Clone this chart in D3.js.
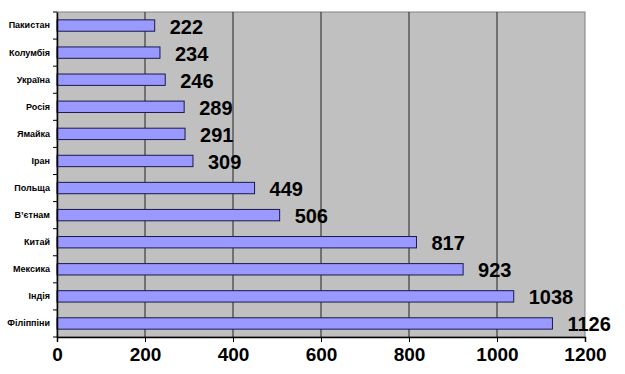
<!DOCTYPE html>
<html>
<head>
<meta charset="utf-8">
<script src="https://cdn.jsdelivr.net/npm/d3@7"></script>
<style>
  body { margin: 0; background: #fff; }
  text { font-family: "Liberation Sans", Arial, sans-serif; font-weight: bold; }
</style>
</head>
<body>
<div id="chart"></div>
<script>
// countries, top to bottom
const countries = ['Пакистан', 'Колумбія', 'Україна', 'Росія', 'Ямайка', 'Іран',
  'Польща', 'В\u2019єтнам', 'Китай', 'Мексика', 'Індія', 'Філіппіни'];
const values = [222, 234, 246, 289, 291, 309, 449, 506, 817, 923, 1038, 1126];
const xTicks = [0, 200, 400, 600, 800, 1000, 1200];

const width = 625, height = 374;
const margin = {top: 12, right: 40, bottom: 37, left: 57};

const svg = d3.select('#chart').append('svg')
  .attr('width', width)
  .attr('height', height);

const x = d3.scaleLinear()
  .domain([0, 1200])
  .range([margin.left, width - margin.right]);

const y = d3.scaleBand()
  .domain(countries)
  .range([margin.top, height - margin.bottom])
  .paddingInner(0.58)
  .paddingOuter(0.29);

// plot area background
svg.append('rect')
  .attr('x', x(0)).attr('y', margin.top)
  .attr('width', x(1200) - x(0))
  .attr('height', height - margin.bottom - margin.top)
  .attr('fill', '#c0c0c0')
  .attr('stroke', '#808080')
  .attr('stroke-width', 1);

// gridlines
svg.append('g').selectAll('line')
  .data(xTicks.filter(d => d > 0 && d < 1200))
  .enter().append('line')
  .attr('x1', d => x(d)).attr('x2', d => x(d))
  .attr('y1', margin.top).attr('y2', height - margin.bottom)
  .attr('stroke', '#222').attr('stroke-width', 1);

// bars
svg.append('g').selectAll('rect')
  .data(values)
  .enter().append('rect')
  .attr('x', x(0))
  .attr('y', (d, i) => y(countries[i]))
  .attr('width', d => x(d) - x(0))
  .attr('height', y.bandwidth())
  .attr('fill', '#9999ff')
  .attr('stroke', '#1a1a4d')
  .attr('stroke-width', 1);

// value labels
svg.append('g').selectAll('text')
  .data(values)
  .enter().append('text')
  .attr('x', d => x(d) + 15)
  .attr('y', (d, i) => y(countries[i]) + y.bandwidth() / 2 + 1)
  .attr('dy', '0.35em')
  .attr('font-size', 20)
  .attr('fill', '#000')
  .text(d => d);

// x axis
const xAxis = svg.append('g')
  .attr('transform', `translate(0,${height - margin.bottom})`)
  .call(d3.axisBottom(x).tickValues(xTicks).tickFormat(d3.format('d'))
    .tickSize(5).tickPadding(6));
xAxis.select('.domain').attr('stroke', '#000').attr('stroke-width', 1.5);
xAxis.selectAll('.tick line').attr('stroke', '#000');
xAxis.selectAll('text').attr('font-size', 19).attr('fill', '#000')
  .style('font-family', '"Liberation Sans", Arial, sans-serif')
  .style('font-weight', 'bold');

// y axis
const step = y.step();
const yAxis = svg.append('g')
  .attr('transform', `translate(${x(0)},0)`)
  .call(d3.axisLeft(y).tickSize(0).tickPadding(7));
yAxis.select('.domain').attr('stroke', '#000').attr('stroke-width', 1.5);
yAxis.selectAll('text').attr('font-size', 9).attr('fill', '#000')
  .style('font-family', '"Liberation Sans", Arial, sans-serif')
  .style('font-weight', 'bold');

// small ticks between categories
svg.append('g').selectAll('line')
  .data(d3.range(countries.length + 1))
  .enter().append('line')
  .attr('x1', x(0) - 4).attr('x2', x(0))
  .attr('y1', i => margin.top + i * step)
  .attr('y2', i => margin.top + i * step)
  .attr('stroke', '#000');
</script>
</body>
</html>
